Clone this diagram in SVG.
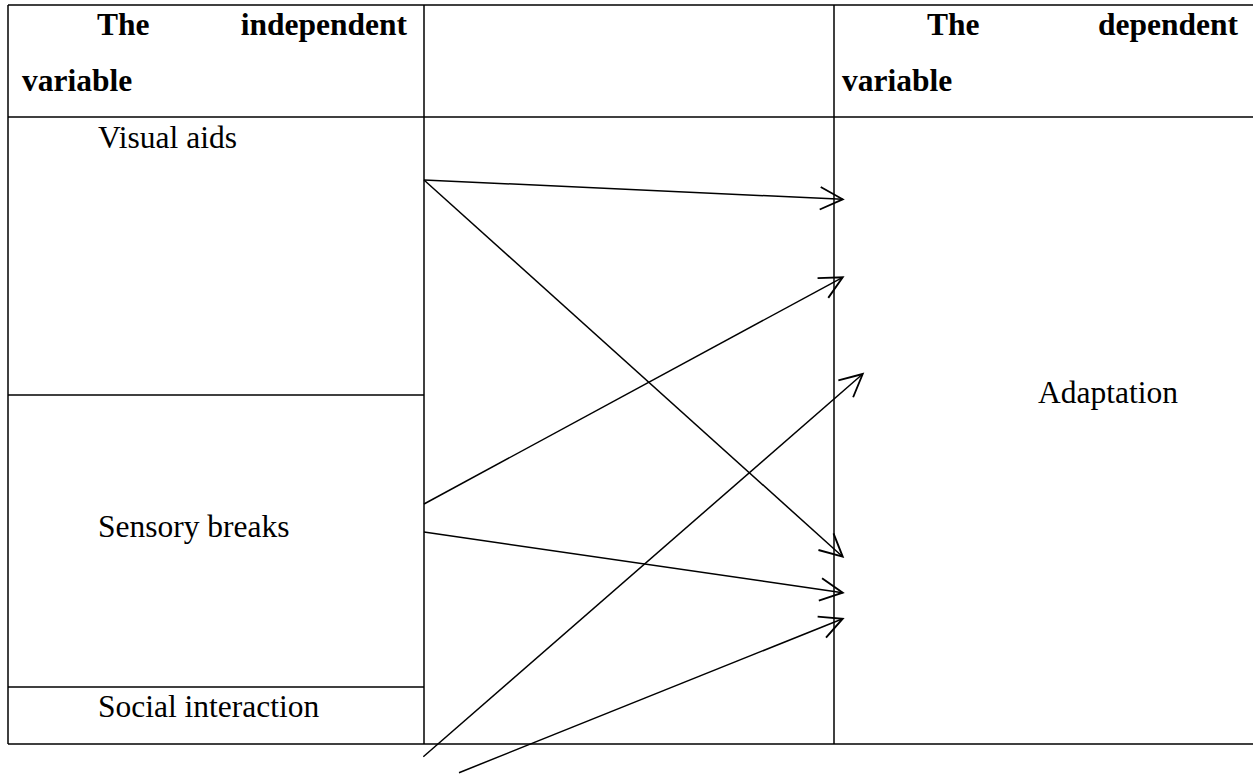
<svg xmlns="http://www.w3.org/2000/svg" width="1253" height="774" viewBox="0 0 1253 774">
<style>
.t{font-family:"Liberation Serif","Times New Roman",serif;font-size:31.5px;fill:#000}
.b{font-weight:bold}
.g{stroke:#000;stroke-width:1.5;fill:none}
.c{stroke:#000;stroke-width:1.5;fill:none;marker-end:url(#ah)}
</style>
<defs>
<marker id="ah" markerUnits="userSpaceOnUse" orient="auto" markerWidth="30" markerHeight="30" viewBox="-20 -12 22 24" refX="0" refY="0" overflow="visible">
<path d="M-18,-9 L0,0 L-18,9" fill="none" stroke="#000" stroke-width="1.5"/>
</marker>
</defs>
<rect width="1253" height="774" fill="#fff"/>
<g id="table" class="g">
<line x1="8" y1="5" x2="1253" y2="5"/>
<line x1="8" y1="117" x2="1253" y2="117"/>
<line x1="8" y1="744" x2="1253" y2="744"/>
<line x1="8" y1="5" x2="8" y2="744"/>
<line x1="424" y1="5" x2="424" y2="744"/>
<line x1="834" y1="5" x2="834" y2="744"/>
<line x1="8" y1="395" x2="424" y2="395"/>
<line x1="8" y1="687" x2="424" y2="687"/>
</g>
<g id="header-independent">
<text class="t b" x="97" y="35">The</text>
<text class="t b" x="407" y="35" text-anchor="end">independent</text>
<text class="t b" x="22" y="91">variable</text>
</g>
<g id="header-dependent">
<text class="t b" x="927" y="35">The</text>
<text class="t b" x="1238" y="35" text-anchor="end">dependent</text>
<text class="t b" x="842" y="91">variable</text>
</g>
<g id="visual-aids"><text class="t" x="98" y="148">Visual aids</text></g>
<g id="sensory-breaks"><text class="t" x="98" y="537">Sensory breaks</text></g>
<g id="social-interaction"><text class="t" x="98" y="717">Social interaction</text></g>
<g id="adaptation"><text class="t" x="1038" y="403">Adaptation</text></g>
<g id="connectors">
<line class="c" x1="424" y1="180" x2="842.7" y2="199.3"/>
<line class="c" x1="424" y1="180" x2="842.7" y2="556.7"/>
<line class="c" x1="424" y1="504" x2="842.7" y2="277.3"/>
<line class="c" x1="424" y1="532" x2="842.7" y2="592.7"/>
<line class="c" x1="423.3" y1="756.7" x2="862.7" y2="374"/>
<line class="c" x1="459" y1="772.7" x2="842.7" y2="618.7"/>
</g>
</svg>
